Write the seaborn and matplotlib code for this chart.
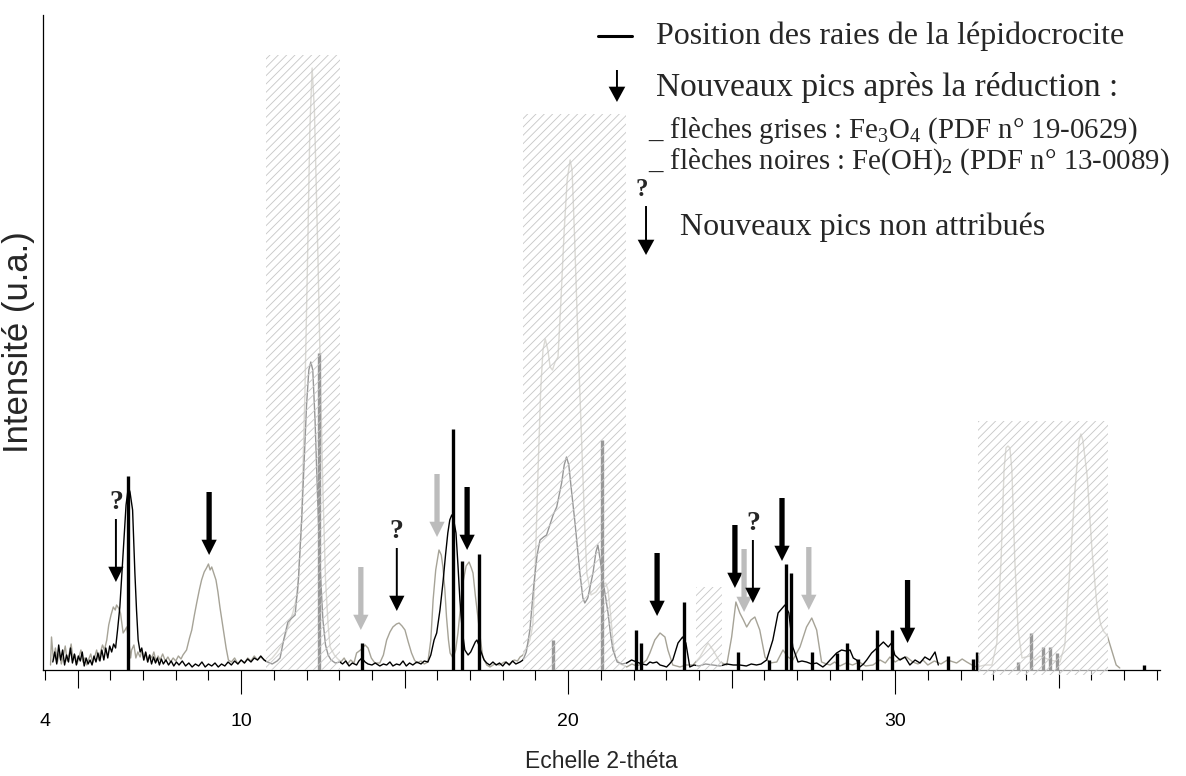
import matplotlib
matplotlib.use("Agg")
import matplotlib.pyplot as plt
import seaborn as sns
import pandas as pd

# diffractogramme apres reduction (trait noir) : (2-theta, intensite u.a.)
black_trace = [
    (4.24, 8), (4.30, 18), (4.36, 6), (4.42, 25), (4.48, 10), (4.54, 20), (4.60, 5), (4.66, 15),
    (4.72, 8), (4.78, 22), (4.84, 7), (4.90, 16), (4.96, 5), (5.02, 14), (5.08, 9), (5.14, 18),
    (5.20, 4), (5.26, 12), (5.32, 6), (5.38, 10), (5.44, 5), (5.50, 14), (5.56, 8), (5.62, 17),
    (5.68, 9), (5.74, 20), (5.80, 10), (5.86, 22), (5.92, 12), (5.98, 24), (6.04, 18), (6.10, 26),
    (6.16, 22), (6.22, 40), (6.29, 63), (6.36, 100), (6.42, 130), (6.48, 165), (6.55, 183),
    (6.60, 178), (6.68, 160), (6.75, 97), (6.80, 60), (6.85, 30), (6.91, 18), (6.96, 22),
    (7.02, 10), (7.08, 18), (7.14, 8), (7.20, 15), (7.26, 6), (7.32, 13), (7.38, 7), (7.44, 12),
    (7.50, 5), (7.56, 11), (7.62, 6), (7.70, 10), (7.78, 5), (7.86, 9), (7.94, 4), (8.02, 8),
    (8.10, 5), (8.20, 9), (8.30, 4), (8.40, 7), (8.50, 3), (8.60, 6), (8.70, 4), (8.80, 8),
    (8.90, 3), (9.00, 6), (9.10, 4), (9.20, 7), (9.30, 3), (9.40, 6), (9.50, 4), (9.60, 8),
    (9.70, 5), (9.80, 9), (9.90, 6), (10.00, 10), (10.10, 7), (10.20, 11), (10.30, 8),
    (10.40, 12), (10.50, 10), (10.60, 14), (10.70, 10), (10.80, 8), (10.95, 6), (11.10, 9),
    (11.19, 12), (11.30, 30), (11.43, 48), (11.55, 52), (11.65, 55), (11.75, 90), (11.85, 150),
    (11.93, 210), (12.00, 265), (12.07, 300), (12.13, 308), (12.19, 300), (12.26, 250),
    (12.34, 170), (12.42, 100), (12.50, 50), (12.58, 25), (12.66, 15), (12.75, 10), (12.88, 7),
    (13.02, 8), (13.10, 6), (13.20, 9), (13.30, 4), (13.40, 7), (13.53, 5), (13.60, 9),
    (13.69, 12), (13.79, 8), (13.88, 6), (14.00, 5), (14.10, 7), (14.24, 4), (14.35, 6),
    (14.45, 5), (14.55, 8), (14.64, 4), (14.75, 6), (14.85, 5), (14.95, 9), (15.05, 4),
    (15.15, 7), (15.25, 5), (15.37, 8), (15.50, 6), (15.60, 9), (15.71, 8), (15.80, 15),
    (15.90, 30), (15.98, 37), (16.08, 60), (16.17, 87), (16.25, 115), (16.32, 137), (16.38, 150),
    (16.44, 155), (16.50, 150), (16.57, 137), (16.63, 105), (16.69, 70), (16.76, 40), (16.84, 20),
    (16.94, 15), (17.02, 18), (17.09, 23), (17.16, 28), (17.21, 30), (17.28, 24), (17.35, 17),
    (17.43, 10), (17.51, 7), (17.60, 5), (17.70, 8), (17.80, 5), (17.90, 7), (18.00, 4),
    (18.10, 8), (18.20, 5), (18.30, 9), (18.40, 6), (18.53, 8), (18.62, 10), (18.72, 18),
    (18.83, 40), (18.95, 85), (19.05, 115), (19.14, 130), (19.25, 133), (19.34, 135), (19.44, 145),
    (19.54, 155), (19.65, 163), (19.80, 187), (19.88, 205), (19.95, 213), (20.02, 205),
    (20.10, 180), (20.21, 147), (20.36, 97), (20.45, 72), (20.51, 67), (20.60, 72), (20.76, 97),
    (20.85, 118), (20.91, 125), (20.98, 110), (21.06, 90), (21.15, 72), (21.22, 57), (21.30, 35),
    (21.37, 20), (21.50, 8), (21.65, 6), (21.79, 7), (21.94, 10), (22.10, 8), (22.25, 6),
    (22.40, 5), (22.50, 8), (22.59, 7), (22.71, 8), (22.81, 5), (22.92, 4), (23.01, 3),
    (23.10, 6), (23.20, 10), (23.36, 27), (23.50, 33), (23.60, 27), (23.72, 3), (23.85, 5),
    (24.00, 4), (24.20, 6), (24.43, 5), (24.65, 4), (24.85, 6), (25.05, 5), (25.25, 5),
    (25.45, 4), (25.60, 6), (25.76, 5), (25.90, 6), (26.07, 10), (26.26, 30), (26.42, 57),
    (26.63, 65), (26.75, 57), (26.87, 23), (27.03, 8), (27.15, 9), (27.29, 8), (27.45, 6),
    (27.60, 7), (27.79, 3), (27.90, 6), (28.01, 10), (28.21, 17), (28.36, 20), (28.50, 19),
    (28.62, 20), (28.72, 12), (28.82, 10), (28.92, 3), (29.03, 6), (29.13, 10), (29.28, 17),
    (29.48, 23), (29.64, 28), (29.79, 23), (29.89, 27), (29.99, 15), (30.15, 10), (30.30, 13),
    (30.45, 5), (30.61, 10), (30.76, 7), (30.91, 13), (31.06, 10), (31.22, 18), (31.32, 5),
]

# diffractogramme de reference (trait gris)
gray_trace = [
    (4.17, 5), (4.20, 33), (4.26, 10), (4.32, 22), (4.38, 8), (4.44, 18), (4.50, 6), (4.56, 14),
    (4.62, 24), (4.68, 9), (4.74, 16), (4.80, 26), (4.86, 10), (4.92, 15), (4.98, 6), (5.04, 13),
    (5.10, 20), (5.16, 8), (5.22, 12), (5.28, 5), (5.34, 11), (5.40, 16), (5.46, 7), (5.52, 13),
    (5.58, 20), (5.64, 10), (5.70, 18), (5.76, 25), (5.82, 20), (5.89, 30), (5.95, 45),
    (6.02, 55), (6.09, 63), (6.15, 60), (6.19, 65), (6.25, 62), (6.31, 57), (6.36, 45),
    (6.39, 37), (6.45, 40), (6.50, 43), (6.56, 30), (6.62, 12), (6.65, 20), (6.72, 25),
    (6.78, 12), (6.84, 18), (6.91, 13), (6.97, 20), (7.03, 10), (7.09, 17), (7.15, 8), (7.21, 15),
    (7.27, 12), (7.33, 18), (7.40, 8), (7.46, 14), (7.52, 10), (7.60, 16), (7.68, 9), (7.76, 13),
    (7.84, 8), (7.92, 12), (8.00, 9), (8.08, 14), (8.16, 11), (8.22, 15), (8.33, 20), (8.42, 32),
    (8.49, 40), (8.57, 55), (8.64, 67), (8.72, 80), (8.79, 90), (8.87, 98), (8.94, 102),
    (9.00, 106), (9.05, 100), (9.10, 103), (9.17, 96), (9.23, 90), (9.29, 78), (9.35, 63),
    (9.41, 50), (9.47, 37), (9.54, 22), (9.61, 10), (9.70, 8), (9.80, 12), (9.90, 6),
    (10.00, 10), (10.10, 7), (10.20, 12), (10.30, 9), (10.40, 14), (10.50, 10), (10.60, 13),
    (10.80, 8), (10.95, 12), (11.10, 18), (11.28, 27), (11.45, 45), (11.58, 57), (11.73, 77),
    (11.85, 150), (11.95, 277), (12.03, 410), (12.10, 540), (12.17, 602), (12.24, 560),
    (12.30, 480), (12.35, 410), (12.42, 300), (12.50, 180), (12.58, 90), (12.66, 45),
    (12.72, 23), (12.85, 15), (12.93, 12), (13.05, 8), (13.15, 12), (13.25, 6), (13.35, 10),
    (13.45, 7), (13.53, 17), (13.65, 20), (13.79, 25), (13.88, 22), (13.98, 12), (14.09, 7),
    (14.24, 7), (14.35, 15), (14.45, 30), (14.55, 38), (14.64, 43), (14.75, 46), (14.83, 47),
    (14.92, 44), (15.01, 40), (15.11, 28), (15.21, 17), (15.30, 10), (15.37, 7), (15.50, 9),
    (15.60, 6), (15.71, 8), (15.80, 30), (15.87, 70), (15.95, 100), (16.05, 120), (16.12, 115),
    (16.17, 103), (16.23, 80), (16.28, 53), (16.34, 30), (16.39, 17), (16.48, 12), (16.56, 20),
    (16.63, 37), (16.70, 60), (16.78, 87), (16.88, 104), (16.97, 108), (17.04, 102), (17.09, 97),
    (17.16, 75), (17.24, 53), (17.32, 30), (17.39, 13), (17.51, 5), (17.61, 3), (17.75, 6),
    (17.90, 5), (18.05, 8), (18.20, 6), (18.35, 10), (18.45, 9), (18.53, 13), (18.62, 15),
    (18.72, 22), (18.83, 30), (18.92, 45), (19.00, 110), (19.08, 200), (19.16, 280), (19.23, 320),
    (19.30, 331), (19.38, 320), (19.45, 303), (19.52, 300), (19.60, 308), (19.69, 313),
    (19.78, 370), (19.88, 440), (19.97, 490), (20.06, 510), (20.12, 500), (20.20, 430),
    (20.30, 330), (20.41, 230), (20.50, 150), (20.57, 97), (20.70, 75), (20.85, 78), (21.00, 85),
    (21.15, 87), (21.22, 80), (21.30, 55), (21.38, 25), (21.45, 12), (21.60, 6), (21.79, 3),
    (21.95, 6), (22.10, 4), (22.29, 7), (22.40, 10), (22.50, 17), (22.65, 30), (22.81, 37),
    (22.96, 33), (23.05, 20), (23.20, 5), (23.42, 3), (23.60, 5), (23.82, 5), (24.03, 13),
    (24.15, 20), (24.28, 27), (24.43, 20), (24.64, 8), (24.85, 5), (25.00, 33), (25.13, 68),
    (25.25, 57), (25.36, 50), (25.46, 43), (25.59, 50), (25.71, 53), (25.86, 40), (26.02, 13),
    (26.17, 7), (26.38, 8), (26.57, 20), (26.72, 13), (26.87, 10), (27.09, 23), (27.29, 43),
    (27.45, 52), (27.60, 40), (27.75, 8), (27.90, 6), (28.01, 5), (28.15, 8), (28.31, 4),
    (28.50, 7), (28.70, 5), (28.90, 8), (29.10, 4), (29.32, 5), (29.54, 10), (29.70, 7),
    (29.84, 13), (30.00, 8), (30.15, 11), (30.35, 13), (30.54, 8), (30.70, 6), (30.85, 10),
    (31.00, 5), (31.20, 9), (31.40, 6), (31.60, 10), (31.88, 7), (32.05, 11), (32.19, 8),
    (32.35, 5), (32.49, 3), (32.75, 5), (32.96, 5), (33.11, 27), (33.24, 110), (33.33, 200),
    (33.39, 222), (33.45, 224), (33.51, 222), (33.57, 200), (33.66, 110), (33.76, 40),
    (33.88, 12), (34.12, 14), (34.28, 10), (34.43, 14), (34.73, 10), (35.04, 8), (35.19, 25),
    (35.34, 100), (35.50, 180), (35.62, 228), (35.68, 236), (35.74, 230), (35.87, 195),
    (36.02, 120), (36.17, 65), (36.29, 45), (36.39, 38), (36.48, 35), (36.60, 22), (36.76, 5),
    (36.87, 2),
]

# raies de la lepidocrocite
lepido_2theta = [6.54, 12.38, 13.69, 16.49, 16.76, 17.26, 19.55, 21.03, 22.06, 22.23, 23.54,
                 25.18, 26.14, 26.66, 26.83, 27.45, 28.21, 28.53, 28.85, 29.45, 29.91, 31.62,
                 32.39, 32.49, 33.75, 34.17, 34.51, 34.73, 34.94, 37.61]
lepido_int = [194, 317, 27, 241, 109, 116, 30, 230, 40, 27, 68, 18, 10, 106, 97, 18, 17, 27,
              11, 40, 40, 14, 11, 18, 8, 37, 23, 23, 17, 5]

# zones hachurees
hatch_start = [10.76, 18.62, 23.90, 32.53]
hatch_end = [13.02, 21.77, 24.69, 36.52]
hatch_top = [615, 556, 83, 249]
hatch_bottom = [0, 0, 0, -5]

# fleches : position et hauteur de la pointe
black_arrow_2theta = [9.02, 16.91, 22.72, 25.10, 26.54, 30.38]
black_arrow_tip = [115, 120, 54, 82, 109, 27]
gray_arrow_2theta = [13.66, 15.99, 25.38, 27.36]
gray_arrow_tip = [40, 133, 58, 60]
unk_arrow_2theta = [6.17, 14.76, 25.65]
unk_arrow_tip = [88, 59, 67]

ARROW_LEN = 63
GRAY_LINE = "#a6a397"
GRAY_ARROW = "#bcbcbc"

sns.set_style("white")
plt.rcParams["font.family"] = ["Liberation Sans", "DejaVu Sans"]
plt.rcParams["mathtext.fontset"] = "custom"
plt.rcParams["mathtext.rm"] = "Liberation Serif"
plt.rcParams["mathtext.it"] = "Liberation Serif:italic"
plt.rcParams["mathtext.bf"] = "Liberation Serif:bold"
plt.rcParams["hatch.linewidth"] = 0.6

fig = plt.figure(figsize=(11.86, 7.76), dpi=100)
ax = fig.add_axes([43 / 1186, 106 / 776, 1117 / 1186, 655 / 776])

df_b = pd.DataFrame(black_trace, columns=["theta", "inten"])
df_g = pd.DataFrame(gray_trace, columns=["theta", "inten"])
sns.lineplot(data=df_g, x="theta", y="inten", ax=ax, color=GRAY_LINE, lw=1.0,
             estimator=None, sort=False, zorder=2)
sns.lineplot(data=df_b, x="theta", y="inten", ax=ax, color="black", lw=1.0,
             estimator=None, sort=False, zorder=2.2)

ax.vlines(lepido_2theta, 0, lepido_int, colors="black", lw=2.4, zorder=2.4)

widths = [e - s for s, e in zip(hatch_start, hatch_end)]
heights = [t - b for t, b in zip(hatch_top, hatch_bottom)]
bars = ax.bar(hatch_start, heights, width=widths, bottom=hatch_bottom, align="edge",
              facecolor=(1, 1, 1, 0.6), edgecolor="#c6c6c6", linewidth=0,
              hatch="////", zorder=3)
for p in bars.patches:
    p.set_clip_on(False)


def arrow(x, tip, color, tail_w):
    ax.annotate("", xy=(x, tip), xytext=(x, tip + ARROW_LEN),
                arrowprops=dict(arrowstyle=f"simple,head_length=0.55,head_width=0.55,tail_width={tail_w}",
                                color=color, lw=0, shrinkA=0, shrinkB=0,
                                mutation_scale=20), zorder=4)


for x, t in zip(black_arrow_2theta, black_arrow_tip):
    arrow(x, t, "black", 0.19)
for x, t in zip(gray_arrow_2theta, gray_arrow_tip):
    arrow(x, t, GRAY_ARROW, 0.19)
for x, t in zip(unk_arrow_2theta, unk_arrow_tip):
    arrow(x, t, "black", 0.07)
    ax.text(x, t + ARROW_LEN + 4, "?", ha="center", va="bottom", fontsize=20,
            fontweight="bold", family="Liberation Serif", zorder=4)

ax.set_xlim(3.94, 38.1)
ax.set_ylim(0, 655)
major = [4, 5, 10, 15, 20, 25, 30, 35]
ax.set_xticks(major)
ax.set_xticklabels(["4", "", "10", "", "20", "", "30", ""])
ax.set_xticks(range(4, 39), minor=True)
ax.set_yticks([])
ax.tick_params(axis="x", which="major", direction="out", length=17, width=0.8,
               pad=14, labelsize=14, colors="black", bottom=True)
ax.tick_params(axis="x", which="minor", direction="out", length=7, width=0.8,
               colors="black", bottom=True)
tick_len = {4: 7, 5: 13, 10: 17, 15: 13, 20: 17, 25: 13, 30: 17, 35: 13}
for tk, v in zip(ax.xaxis.get_major_ticks(), major):
    tk.tick1line.set_markersize(tick_len[v])

for side in ["top", "right"]:
    ax.spines[side].set_visible(False)
for side in ["left", "bottom"]:
    ax.spines[side].set_color("black")
    ax.spines[side].set_linewidth(0.9)

ax.set_xlabel("Echelle 2-théta", fontsize=16.5, labelpad=14)
ax.set_ylabel("Intensité (u.a.)", fontsize=25, labelpad=6)

# legende
serif = "Liberation Serif"
fig.add_artist(plt.Line2D([598 / 1186, 632 / 1186], [0.9536, 0.9536], color="black", lw=2.2))
fig.text(0.5531, 0.9433, "Position des raies de la lépidocrocite", family=serif, fontsize=23)
ax.annotate("", xy=(0.5202, 0.8686), xytext=(0.5202, 0.9098), xycoords="figure fraction",
            arrowprops=dict(arrowstyle="simple,head_length=0.55,head_width=0.6,tail_width=0.07",
                            color="black", lw=0, shrinkA=0, shrinkB=0, mutation_scale=20),
            annotation_clip=False)
fig.text(0.5531, 0.8763, "Nouveaux pics après la réduction :", family=serif, fontsize=24)
fig.text(0.5465, 0.8222, "_ flèches grises : Fe$_3$O$_4$ (PDF n° 19-0629)", family=serif, fontsize=20.8)
fig.text(0.5465, 0.7822, "_ flèches noires : Fe(OH)$_2$ (PDF n° 13-0089)", family=serif, fontsize=20.8)
fig.text(0.5413, 0.7552, "?", family=serif, fontsize=18, fontweight="bold", ha="center", va="center")
ax.annotate("", xy=(0.5447, 0.6714), xytext=(0.5447, 0.7345), xycoords="figure fraction",
            arrowprops=dict(arrowstyle="simple,head_length=0.55,head_width=0.6,tail_width=0.07",
                            color="black", lw=0, shrinkA=0, shrinkB=0, mutation_scale=20),
            annotation_clip=False)
fig.text(0.5734, 0.6972, "Nouveaux pics non attribués", family=serif, fontsize=23)

fig.savefig("out.png", dpi=100)
